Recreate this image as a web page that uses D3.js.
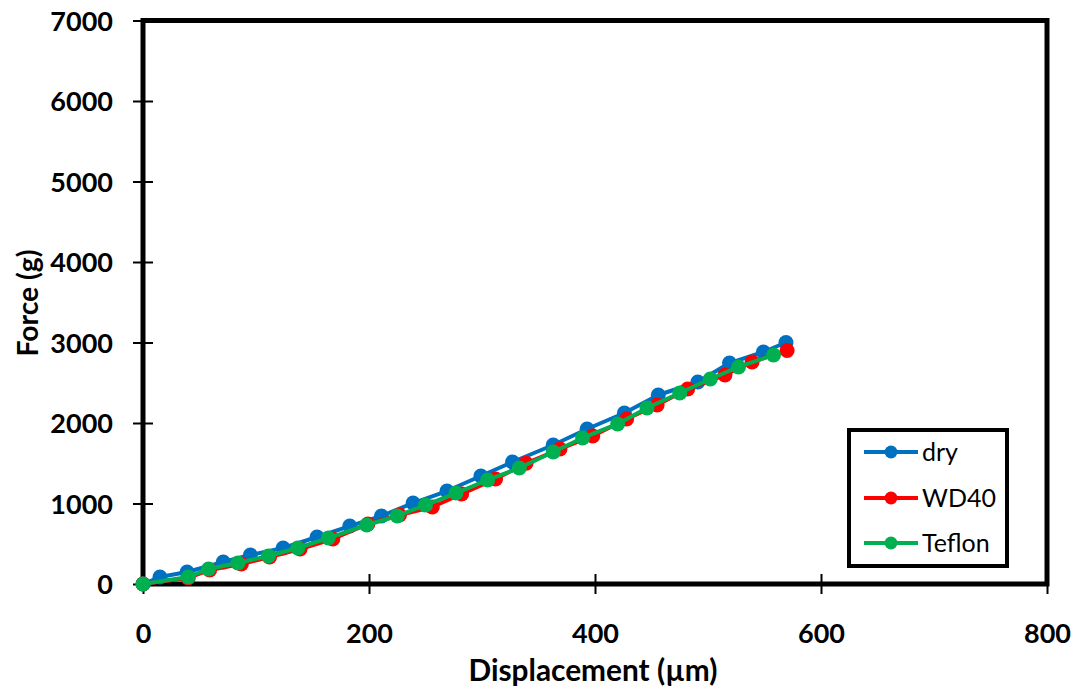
<!DOCTYPE html>
<html><head><meta charset="utf-8">
<script src="https://cdn.jsdelivr.net/npm/d3@7"></script>
<style>body{margin:0;background:#fff}svg{display:block}</style>
</head><body>
<svg id="chart" width="1083" height="696"></svg>
<script>
const xTicks = [0, 200, 400, 600, 800];
const yTicks = [0, 1000, 2000, 3000, 4000, 5000, 6000, 7000];
const seriesNames = ["dry", "WD40", "Teflon"];
const seriesColors = ["#0070C0", "#FF0000", "#00B050"];
const dryX = [0, 15, 39, 71, 95, 124, 154, 183, 211, 239, 269, 299, 327, 363, 393, 426, 456, 491, 519, 549, 569];
const dryY = [0, 87, 149, 273, 360, 447, 584, 720, 845, 1006, 1155, 1342, 1516, 1727, 1925, 2124, 2348, 2509, 2745, 2882, 3000];
const wdX = [0, 40, 59, 87, 112, 139, 168, 199, 227, 256, 282, 312, 339, 369, 398, 428, 455, 482, 515, 539, 570];
const wdY = [0, 75, 174, 248, 335, 435, 559, 745, 857, 956, 1118, 1304, 1500, 1677, 1839, 2050, 2224, 2422, 2596, 2758, 2900];
const tefX = [0, 40, 58, 84, 111, 137, 164, 198, 225, 250, 277, 305, 333, 363, 389, 420, 446, 475, 502, 527, 558];
const tefY = [0, 87, 186, 261, 348, 447, 571, 733, 845, 981, 1130, 1292, 1441, 1640, 1814, 1988, 2186, 2373, 2547, 2696, 2845];

const seriesX = [dryX, wdX, tefX];
const seriesY = [dryY, wdY, tefY];

const svg = d3.select("#chart");
const L = 143, R = 1047, T = 20.5, B = 584;
const x = d3.scaleLinear().domain([0, 800]).range([L, R]);
const y = d3.scaleLinear().domain([0, 7000]).range([B, T]);
const font = "Lato, 'Open Sans', sans-serif";
const fmt = d3.format("d");

// y axis ticks and labels
const yAxis = d3.axisLeft(y).tickValues(yTicks).tickFormat(fmt).tickSizeInner(10).tickSizeOuter(0).tickPadding(20);
const gy = svg.append("g").attr("transform", `translate(${L},0)`).call(yAxis);
gy.select(".domain").remove();
gy.selectAll(".tick line").attr("x2", 10).attr("x1", -10).attr("stroke", "#000").attr("stroke-width", 2);
gy.selectAll(".tick text").attr("x", -30).attr("font-family", font).attr("font-weight", "bold").attr("font-size", 27).attr("fill", "#000").attr("dy", "0.36em");

// x axis ticks and labels
const xAxis = d3.axisBottom(x).tickValues(xTicks).tickFormat(fmt).tickSizeInner(10).tickSizeOuter(0).tickPadding(20);
const gx = svg.append("g").attr("transform", `translate(0,${B})`).call(xAxis);
gx.select(".domain").remove();
gx.selectAll(".tick line").attr("y1", -10).attr("y2", 10).attr("stroke", "#000").attr("stroke-width", 2);
gx.selectAll(".tick text").attr("y", 59).attr("font-family", font).attr("font-weight", "bold").attr("font-size", 27).attr("fill", "#000").attr("dy", 0);

// frame
svg.append("rect").attr("x", L).attr("y", T).attr("width", R - L).attr("height", B - T)
  .attr("fill", "none").attr("stroke", "#000").attr("stroke-width", 5);

// series
const line = d3.line().x(d => x(d[0])).y(d => y(d[1]));
seriesNames.forEach((name, i) => {
  const pts = seriesX[i].map((v, j) => [v, seriesY[i][j]]);
  const g = svg.append("g");
  g.append("path").datum(pts).attr("d", line).attr("fill", "none")
    .attr("stroke", seriesColors[i]).attr("stroke-width", 4).attr("stroke-linejoin", "round");
  g.selectAll("circle").data(pts).join("circle")
    .attr("cx", d => x(d[0])).attr("cy", d => y(d[1])).attr("r", 7.5).attr("fill", seriesColors[i]);
});

// axis titles, fitted to the reference widths
function fit(sel, target) {
  let fs = 26;
  sel.attr("font-size", fs);
  const w = sel.node().getComputedTextLength();
  if (w > 0) sel.attr("font-size", fs * target / w);
}
const xt = svg.append("text").attr("x", 593).attr("y", 681).attr("text-anchor", "middle")
  .attr("font-family", font).attr("font-weight", "bold").attr("fill", "#000")
  .text("Displacement (µm)");
fit(xt, 249);
const yt = svg.append("text").attr("transform", "translate(38,303) rotate(-90)").attr("text-anchor", "middle")
  .attr("font-family", font).attr("font-weight", "bold").attr("fill", "#000")
  .text("Force (g)");
fit(yt, 107);

// legend
const lg = svg.append("g");
lg.append("rect").attr("x", 849).attr("y", 430).attr("width", 158).attr("height", 136)
  .attr("fill", "#fff").attr("stroke", "#000").attr("stroke-width", 4);
const rowY = [452, 498, 543];
seriesNames.forEach((name, i) => {
  lg.append("line").attr("x1", 864).attr("x2", 918).attr("y1", rowY[i]).attr("y2", rowY[i])
    .attr("stroke", seriesColors[i]).attr("stroke-width", 4);
  lg.append("circle").attr("cx", 891).attr("cy", rowY[i]).attr("r", 6.5).attr("fill", seriesColors[i]);
  lg.append("text").attr("x", 922).attr("y", rowY[i]).attr("dy", "0.36em")
    .attr("font-family", font).attr("font-size", 25).attr("fill", "#000").text(name);
});
</script>
</body></html>
